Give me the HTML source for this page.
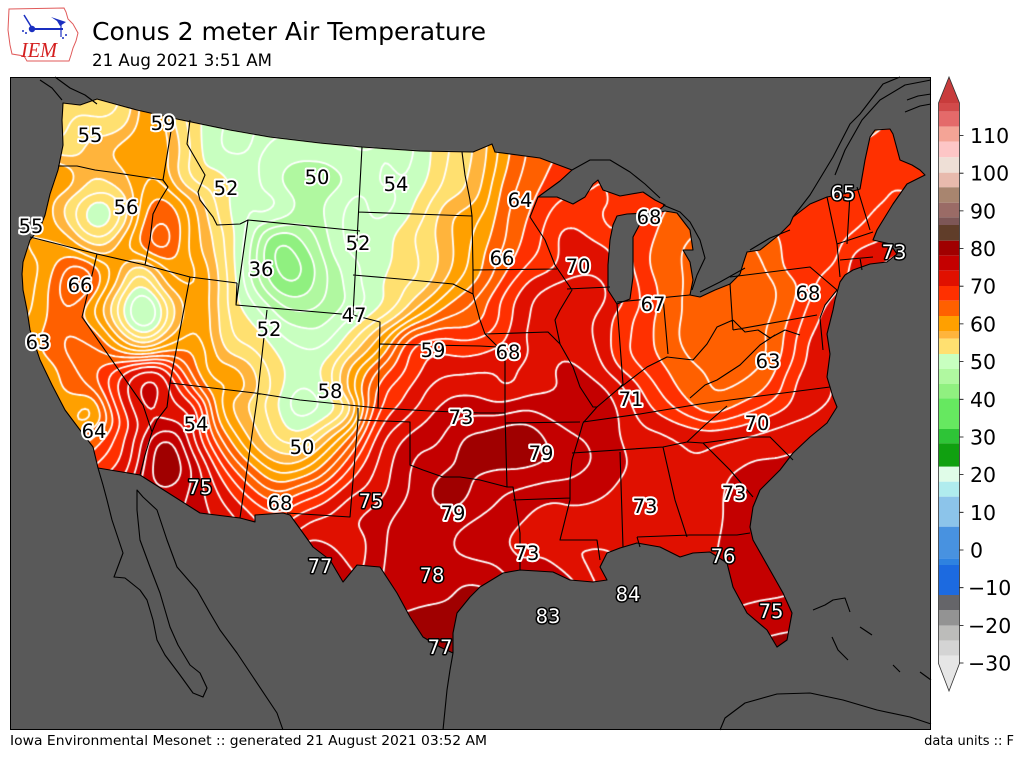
<!DOCTYPE html>
<html><head><meta charset="utf-8">
<style>
html,body{margin:0;padding:0;background:#fff;}
#wrap{position:relative;width:1024px;height:768px;overflow:hidden;background:#fff;font-family:"DejaVu Sans","Liberation Sans",sans-serif;}
svg,canvas{position:absolute;left:0;top:0;}
</style></head>
<body><div id="wrap">
<svg id="base" width="1024" height="768" xmlns="http://www.w3.org/2000/svg">
<rect x="10" y="77" width="921" height="653" fill="#595959"/>
<path id="usfb" fill="#d81400" d="M63,103 L80,105 L97,99 L137,110 L177,119 L230,130 L270,137 L320,143 L362,147 L420,151 L473,152 L492,144 L495,152 L540,158 L572,170 L560,181 L538,197 L557,197 L573,204 L585,197 L593,184 L598,180 L603,190 L620,196 L643,192 L655,200 L665,205 L657,212 L647,213 L627,214 L617,216 L613,225 L610,240 L608,265 L608,290 L617,304 L630,299 L633,277 L633,250 L633,237 L642,220 L653,214 L665,211 L677,213 L690,230 L693,250 L683,250 L690,262 L693,280 L690,295 L700,297 L715,290 L730,284 L740,274 L743,264 L747,252 L760,250 L780,234 L790,224 L793,217 L810,204 L827,197 L843,194 L860,189 L865,160 L870,137 L875,130 L890,129 L893,134 L900,160 L912,165 L920,170 L925,175 L907,184 L893,204 L877,230 L873,240 L890,244 L897,254 L887,262 L870,264 L853,270 L845,275 L840,282 L835,300 L833,310 L827,334 L830,354 L827,377 L833,397 L837,407 L827,423 L810,437 L793,453 L780,470 L760,490 L753,507 L750,527 L753,540 L770,570 L783,593 L792,613 L787,640 L777,647 L767,630 L747,613 L733,587 L727,563 L710,552 L693,553 L680,557 L660,547 L637,543 L620,548 L607,553 L600,567 L607,580 L593,582 L570,580 L553,572 L520,570 L503,573 L480,587 L470,597 L457,613 L453,633 L453,653 L440,647 L423,637 L410,617 L397,593 L380,567 L357,565 L343,582 L330,560 L313,547 L303,533 L290,515 L283,513 L255,515 L255,522 L240,518 L200,513 L140,475 L98,468 L93,447 L80,430 L65,410 L52,385 L40,360 L30,330 L27,310 L23,290 L22,274 L23,262 L30,240 L40,228 L45,215 L50,194 L58,170 L60,160 L63,145 L62,120 Z"/>
</svg>
<canvas id="cv" width="1024" height="768"></canvas>
<svg id="ov" width="1024" height="768" xmlns="http://www.w3.org/2000/svg">
<g fill="none" stroke="#000" stroke-width="1.1" stroke-linejoin="round">
<path d="M63,103 L80,105 L97,99 L137,110 L177,119 L230,130 L270,137 L320,143 L362,147 L420,151 L473,152 L492,144 L495,152 L540,158 L572,170 L560,181 L538,197 L557,197 L573,204 L585,197 L593,184 L598,180 L603,190 L620,196 L643,192 L655,200 L665,205 L657,212 L647,213 L627,214 L617,216 L613,225 L610,240 L608,265 L608,290 L617,304 L630,299 L633,277 L633,250 L633,237 L642,220 L653,214 L665,211 L677,213 L690,230 L693,250 L683,250 L690,262 L693,280 L690,295 L700,297 L715,290 L730,284 L740,274 L743,264 L747,252 L760,250 L780,234 L790,224 L793,217 L810,204 L827,197 L843,194 L860,189 L865,160 L870,137 L875,130 L890,129 L893,134 L900,160 L912,165 L920,170 L925,175 L907,184 L893,204 L877,230 L873,240 L890,244 L897,254 L887,262 L870,264 L853,270 L845,275 L840,282 L835,300 L833,310 L827,334 L830,354 L827,377 L833,397 L837,407 L827,423 L810,437 L793,453 L780,470 L760,490 L753,507 L750,527 L753,540 L770,570 L783,593 L792,613 L787,640 L777,647 L767,630 L747,613 L733,587 L727,563 L710,552 L693,553 L680,557 L660,547 L637,543 L620,548 L607,553 L600,567 L607,580 L593,582 L570,580 L553,572 L520,570 L503,573 L480,587 L470,597 L457,613 L453,633 L453,653 L440,647 L423,637 L410,617 L397,593 L380,567 L357,565 L343,582 L330,560 L313,547 L303,533 L290,515 L283,513 L255,515 L255,522 L240,518 L200,513 L140,475 L98,468 L93,447 L80,430 L65,410 L52,385 L40,360 L30,330 L27,310 L23,290 L22,274 L23,262 L30,240 L40,228 L45,215 L50,194 L58,170 L60,160 L63,145 L62,120 Z"/>
<path d="M58,166 L77,166 L95,170 L110,172 L130,175 L163,180 M173,119 L163,180 L168,187 L160,200 L153,214 L150,240 L145,265 M30,237 L97,254 L145,265 L190,277 L237,283 M97,254 L82,317 L143,405 L152,432 M170,383 L167,407 L157,420 L152,432 L145,455 L140,475 M190,277 L170,383 L255,393 L300,400 L378,408 L430,411 L480,413 L505,413 M267,310 L257,400 L240,518 M237,283 L236,305 L353,315 L380,322 L378,408 M190,120 L187,144 L205,175 L198,192 L200,200 L213,217 L217,225 L240,224 L248,220 L236,305 M248,220 L360,231 M362,147 L353,315 M358,212 L472,216 M353,275 L400,279 L453,284 L465,290 L473,294 M462,152 L465,175 L470,200 L472,216 L473,270 L473,294 L480,320 L485,334 L498,347 L505,360 L505,413 L507,487 M380,344 L480,346 L498,347 M358,408 L358,420 L350,517 L287,513 M358,420 L410,422 L410,465 L423,470 L443,477 L460,477 L480,480 L507,487 L513,487 L515,500 L520,533 L520,570 M505,423 L580,422 M513,500 L570,498 M597,407 L590,415 L583,423 L578,440 L572,460 L570,480 L570,500 L565,520 L560,540 L597,540 L600,560 M620,452 L623,547 M572,453 L663,447 L687,442 L703,443 L747,437 L770,437 L793,460 M583,422 L640,414 L700,404 L760,396 L830,387 M727,406 L705,425 L687,442 M663,447 L675,500 L687,537 M637,537 L640,547 M637,537 L690,535 L737,535 L750,533 M703,443 L730,470 L753,497 M473,270 L557,269 M538,197 L530,217 L545,240 L555,265 L572,290 L560,310 L555,320 L560,344 L573,367 L580,387 L593,407 L597,407 M485,334 L548,332 L560,344 M567,289 L610,287 M617,304 L623,384 L617,390 M597,407 L617,390 L647,367 L667,357 L693,360 L707,344 L717,327 L733,320 M663,297 L668,354 M617,302 L690,295 M730,284 L733,330 M730,277 L810,267 L837,290 M733,330 L817,315 M837,290 L825,305 L820,318 L823,350 M733,320 L745,332 L758,330 L770,338 L785,330 L800,335 M690,398 L705,385 L717,380 L740,365 L760,345 L775,335 M827,197 L837,244 L840,277 M850,194 L847,244 M857,187 L870,230 M837,244 L873,232 M840,260 L873,257 M860,258 L862,270"/>
<path d="M572,170 L590,160 L610,160 L630,172 L645,184 L660,198 M663,205 L680,212 L690,222 L700,240 L705,258 L697,275 L692,290 M700,292 L720,282 L745,268 M750,250 L770,238 L790,230 M793,217 L810,195 L833,157 L850,124 L860,114 L883,84 L900,77 M835,175 L845,150 L862,120 L880,100 L905,85 L931,80 M907,100 L918,96 L931,94 M905,112 L920,106 L931,104 M55,77 L70,88 L85,95 L97,104 M40,80 L52,88 L62,100 M98,468 L103,485 L107,500 L112,520 L123,553 L114,577 L125,578 L140,590 L147,600 L153,620 L157,640 L165,655 L180,675 L193,693 L203,697 L207,688 L200,673 L190,665 L178,645 L170,627 L160,593 L150,567 L140,540 L137,510 L137,490 L143,497 L157,510 L167,540 L177,567 L197,590 L210,613 L220,630 L237,653 L253,677 L277,713 L283,730 M453,653 L450,670 L447,690 L443,730 M720,730 L725,718 L745,703 L777,694 L810,693 L843,700 L877,710 L910,717 L931,724 M813,610 L825,605 L833,600 L845,598 L850,612 M832,637 L838,650 L848,660 M860,627 L872,635 M893,665 L900,672 M920,672 L931,680"/>
</g>
<g font-family="DejaVu Sans, Liberation Sans, sans-serif" font-size="19.5" text-anchor="middle" stroke-linejoin="round" paint-order="stroke">
<g fill="#000" stroke="#fff" stroke-width="4">
<text x="90" y="142">55</text><text x="163" y="130">59</text><text x="226" y="195">52</text><text x="317" y="184">50</text><text x="396" y="191">54</text><text x="126" y="214">56</text><text x="31" y="233">55</text><text x="358" y="250">52</text><text x="261" y="276">36</text><text x="80" y="292">66</text><text x="520" y="207">64</text><text x="649" y="224">68</text><text x="502" y="265">66</text><text x="578" y="273">70</text><text x="808" y="300">68</text><text x="38" y="349">63</text><text x="269" y="336">52</text><text x="354" y="322">47</text><text x="433" y="357">59</text><text x="508" y="359">68</text><text x="653" y="311">67</text><text x="768" y="368">63</text><text x="330" y="398">58</text><text x="631" y="406">71</text><text x="461" y="424">73</text><text x="196" y="431">54</text><text x="757" y="430">70</text><text x="94" y="438">64</text><text x="302" y="454">50</text><text x="541" y="460">79</text><text x="280" y="510">68</text><text x="453" y="520">79</text><text x="645" y="513">73</text><text x="734" y="500">73</text><text x="527" y="560">73</text>
</g>
<g fill="#fff" stroke="#000" stroke-width="3">
<text x="843" y="200">65</text><text x="894" y="259">73</text><text x="200" y="494">75</text><text x="371" y="508">75</text><text x="723" y="563">76</text><text x="320" y="573">77</text><text x="432" y="582">78</text><text x="628" y="601">84</text><text x="548" y="623">83</text><text x="771" y="618">75</text><text x="440" y="654">77</text>
</g>
</g>
<rect x="10.5" y="77.5" width="920" height="652" fill="none" stroke="#000" stroke-width="1"/>
<g>
<polygon points="938.5,103 959.5,103 949,77" fill="#c83c3c"/>
<rect x="938.5" y="103" width="21" height="8.7" fill="#d24a4a"/>
<rect x="938.5" y="111.7" width="21" height="15" fill="#e46a6a"/>
<rect x="938.5" y="126.7" width="21" height="15" fill="#f4a496"/>
<rect x="938.5" y="141.7" width="21" height="15.6" fill="#fdc6c6"/>
<rect x="938.5" y="157.3" width="21" height="15.4" fill="#eedfd6"/>
<rect x="938.5" y="172.7" width="21" height="14.6" fill="#e8baad"/>
<rect x="938.5" y="187.3" width="21" height="15.4" fill="#a8856f"/>
<rect x="938.5" y="202.7" width="21" height="14.6" fill="#9a6b66"/>
<rect x="938.5" y="217.3" width="21" height="7.7" fill="#7d5656"/>
<rect x="938.5" y="225" width="21" height="15.7" fill="#603d29"/>
<rect x="938.5" y="240.7" width="21" height="15" fill="#a00000"/>
<rect x="938.5" y="255.7" width="21" height="15" fill="#c40000"/>
<rect x="938.5" y="270.7" width="21" height="15.3" fill="#e01000"/>
<rect x="938.5" y="286" width="21" height="14.7" fill="#ff3000"/>
<rect x="938.5" y="300.7" width="21" height="15.3" fill="#ff6000"/>
<rect x="938.5" y="316" width="21" height="15" fill="#ffa000"/>
<rect x="938.5" y="331" width="21" height="7.7" fill="#ffb43c"/>
<rect x="938.5" y="338.7" width="21" height="15.3" fill="#ffe070"/>
<rect x="938.5" y="354" width="21" height="15" fill="#c8ffc0"/>
<rect x="938.5" y="369" width="21" height="15" fill="#b0f8a0"/>
<rect x="938.5" y="384" width="21" height="14.3" fill="#90f080"/>
<rect x="938.5" y="398.3" width="21" height="30.7" fill="#66e860"/>
<rect x="938.5" y="429" width="21" height="14.3" fill="#2ec437"/>
<rect x="938.5" y="443.3" width="21" height="23.4" fill="#10a010"/>
<rect x="938.5" y="466.7" width="21" height="15" fill="#e0fce8"/>
<rect x="938.5" y="481.7" width="21" height="15" fill="#b0ecee"/>
<rect x="938.5" y="496.7" width="21" height="30" fill="#8cc4ea"/>
<rect x="938.5" y="526.7" width="21" height="31.6" fill="#4892e0"/>
<rect x="938.5" y="558.3" width="21" height="6.7" fill="#2e82e0"/>
<rect x="938.5" y="565" width="21" height="30" fill="#1c6ae0"/>
<rect x="938.5" y="595" width="21" height="15" fill="#656569"/>
<rect x="938.5" y="610" width="21" height="15.7" fill="#939393"/>
<rect x="938.5" y="625.7" width="21" height="15" fill="#bcbcba"/>
<rect x="938.5" y="640.7" width="21" height="15" fill="#d4d4d4"/>
<rect x="938.5" y="655.7" width="21" height="7.8" fill="#e6e6e6"/>
<polygon points="938.5,663.5 959.5,663.5 949,691" fill="#e6e6e6"/>
<path d="M938.5,103 L949,77 L959.5,103 L959.5,663.5 L949,691 L938.5,663.5 Z" fill="none" stroke="#333" stroke-width="0.8"/>
<path d="M959.5,135.5h4M959.5,173.2h4M959.5,210.9h4M959.5,248.6h4M959.5,286.2h4M959.5,323.9h4M959.5,361.6h4M959.5,399.3h4M959.5,437h4M959.5,474.6h4M959.5,512.3h4M959.5,550h4M959.5,587.7h4M959.5,625.4h4M959.5,663h4" stroke="#000" stroke-width="0.8"/>
<g font-family="DejaVu Sans, Liberation Sans, sans-serif" font-size="20.5" fill="#000">
<text x="970" y="143">110</text><text x="970" y="180.7">100</text><text x="970" y="218.4">90</text><text x="970" y="256.1">80</text><text x="970" y="293.7">70</text><text x="970" y="331.4">60</text><text x="970" y="369.1">50</text><text x="970" y="406.8">40</text><text x="970" y="444.5">30</text><text x="970" y="482.1">20</text><text x="970" y="519.8">10</text><text x="970" y="557.5">0</text><text x="968" y="595.2">−10</text><text x="968" y="632.9">−20</text><text x="968" y="670.5">−30</text>
</g>
</g>
<g>
<path d="M9,9 L64,8 L66,12 L68,19 L73,24 L78,33 L76,41 L73,48 L71,55 L69,61 L27,61 L24,56 L12,54 L10,45 L8,30 Z" fill="none" stroke="#e05a5a" stroke-width="1"/>
<line x1="32" y1="29" x2="63" y2="29" stroke="#1a2fc0" stroke-width="2"/>
<line x1="24" y1="15" x2="32" y2="28" stroke="#1a2fc0" stroke-width="1.5"/>
<circle cx="32" cy="29" r="3.2" fill="#1a2fc0"/>
<polygon points="51,17 66,22 60,26 57,21" fill="#1a2fc0"/>
<line x1="61" y1="22" x2="61" y2="37" stroke="#1a2fc0" stroke-width="1.2"/>
<circle cx="23" cy="31" r="1" fill="#1a2fc0"/><circle cx="26" cy="33" r="1" fill="#1a2fc0"/><circle cx="63" cy="38" r="1" fill="#1a2fc0"/><circle cx="66" cy="35" r="1" fill="#1a2fc0"/>
<text x="21" y="57" font-family="Liberation Serif, serif" font-style="italic" font-size="21" fill="#d42020" textLength="36" lengthAdjust="spacingAndGlyphs">IEM</text>
</g>
<text x="92" y="40" font-family="DejaVu Sans, Liberation Sans, sans-serif" font-size="24.5" fill="#000" textLength="394" lengthAdjust="spacingAndGlyphs">Conus 2 meter Air Temperature</text>
<text x="92" y="66" font-family="DejaVu Sans, Liberation Sans, sans-serif" font-size="16.5" fill="#000" textLength="180" lengthAdjust="spacingAndGlyphs">21 Aug 2021 3:51 AM</text>
<text x="10" y="745" font-family="DejaVu Sans, Liberation Sans, sans-serif" font-size="13" fill="#000" textLength="477" lengthAdjust="spacingAndGlyphs">Iowa Environmental Mesonet :: generated 21 August 2021 03:52 AM</text>
<text x="1014" y="745" text-anchor="end" font-family="DejaVu Sans, Liberation Sans, sans-serif" font-size="13" fill="#000">data units :: F</text>
</svg>
</div>
<script>
(function(){
var cv=document.getElementById('cv');if(!cv||!cv.getContext)return;
var ctx=cv.getContext('2d');
var d=document.getElementById('usfb').getAttribute('d');
var US=new Path2D(d);
var P=[
70,117,54,103,117,54,120,117,54,150,117,60,183,117,54,
230,128,50,270,133,50,310,138,50,350,143,50,
67,144,54,93,144,57,127,144,59,167,144,59,187,144,54,217,144,50,277,144,50,343,144,50,
380,160,50,415,162,50,445,160,54,465,160,55,480,160,57,497,160,60,515,160,63,535,160,65,
60,177,60,93,177,56,127,177,58,160,177,60,187,177,54,227,177,52,260,177,50,293,177,47,327,177,47,377,177,50,427,177,52,460,177,56,
467,194,55,483,194,59,503,194,63,527,194,65,547,194,67,577,200,68,610,194,68,647,200,67,
37,210,60,70,210,55,100,220,50,120,210,54,150,210,62,163,215,64,187,210,60,210,210,55,237,210,51,277,210,50,310,210,47,343,210,50,393,210,50,427,210,54,460,210,59,
467,227,59,487,227,61,510,227,65,537,227,67,570,230,71,593,227,68,647,227,67,670,227,65,
27,243,60,60,243,60,93,243,56,127,243,60,160,243,65,193,243,59,220,243,55,243,243,50,277,243,42,310,243,45,343,243,50,377,243,51,410,243,54,443,243,57,470,243,60,
380,260,51,410,260,53,443,260,56,
467,260,60,493,260,64,520,260,67,550,260,69,577,260,71,600,260,71,633,260,68,660,260,65,687,260,64,760,255,64,793,260,67,827,260,67,860,260,71,893,255,72,
793,227,67,827,227,67,860,227,68,887,227,69,867,177,67,893,177,68,883,144,66,910,170,67,850,200,67,800,215,66,893,150,67,875,205,68,
23,277,59,53,277,61,77,277,65,75,282,67,110,277,60,143,277,53,170,277,60,197,277,60,227,277,54,260,277,46,285,270,41,293,277,42,327,277,46,360,277,50,393,277,53,427,277,55,453,277,59,477,277,61,
470,294,63,493,294,67,527,294,71,560,294,73,593,294,73,627,294,70,647,294,67,677,294,64,710,294,63,743,294,63,777,294,64,810,294,67,833,294,70,
37,310,60,60,310,64,93,310,60,120,310,54,143,315,46,170,310,55,197,310,60,227,310,54,260,310,50,293,310,46,327,310,47,360,310,50,393,310,54,427,310,60,460,310,64,
470,327,65,493,327,68,527,327,72,560,327,73,593,327,72,620,327,69,643,327,67,677,327,64,710,327,62,743,327,63,777,327,65,810,327,68,827,327,71,
30,343,61,60,343,64,77,343,64,93,343,64,120,343,60,143,343,55,170,343,60,197,343,61,227,343,55,260,343,53,293,343,50,327,343,50,360,343,55,377,343,59,410,343,67,443,343,69,470,343,69,
470,360,70,493,360,71,527,360,72,560,360,74,593,360,73,620,360,69,647,360,67,677,360,65,710,360,64,743,360,63,777,360,65,793,360,68,820,360,71,
43,377,60,77,377,64,110,377,68,137,377,72,153,377,75,177,377,68,203,377,61,237,377,59,270,377,54,303,377,51,327,377,53,350,377,59,377,377,65,410,377,69,443,377,72,477,377,73,
503,394,72,543,394,74,587,394,75,610,394,74,633,394,71,660,394,68,693,394,65,727,394,64,750,394,65,777,394,67,810,394,71,
60,404,62,110,404,68,143,404,76,170,404,72,310,400,49,70,395,62,130,400,72,
60,417,60,93,415,56,127,417,68,160,417,73,193,417,72,223,417,60,243,417,57,270,417,54,303,417,50,343,417,54,377,417,68,410,417,72,443,417,75,477,417,76,
103,443,67,127,443,72,167,443,79,197,443,71,227,443,64,243,443,59,270,443,55,300,443,54,330,443,58,343,443,63,377,443,71,410,443,75,443,443,76,
470,450,79,505,450,80,540,450,79,520,440,80,455,492,79.5,450,485,79,
440,468,77,470,473,77.5,500,478,77,530,476,76.5,555,468,77,565,445,77,
110,467,72,143,467,76,167,467,80,197,467,75,223,467,68,250,467,63,277,467,59,310,467,60,330,467,64,353,467,69,377,467,72,410,467,76,
85,428,63,100,455,66,120,460,68,
160,493,77,197,493,75,217,493,72,243,493,68,277,493,64,310,493,67,343,493,71,377,493,73,410,493,76,477,495,77,510,490,76,543,490,75,583,490,75,610,490,74,643,490,73,677,490,73,710,490,73,740,490,75,
197,517,75,237,517,72,270,517,69,303,517,71,343,517,73,377,517,75,410,517,77,443,517,77,477,517,76,510,523,75,543,523,73,577,523,73,610,523,73,643,523,73,677,523,73,710,523,73,737,523,75,
343,550,73,370,550,74,393,550,77,427,550,77,460,550,76,477,543,75,520,543,73,560,543,72,600,543,72,693,550,73,740,543,75,
470,567,76,500,567,76,543,567,75,743,567,74.5,760,570,75,325,560,76,
410,583,77,443,583,77,470,583,79,
467,600,78,753,600,76,777,600,76,
420,627,78.5,443,627,79,777,633,78,440,645,78.5,
477,410,75,510,410,76,560,410,75,610,410,75,643,410,71,677,410,68,710,402,64,743,410,68,777,410,70,810,410,72,
477,433,78.5,527,433,78,560,433,76,600,433,75,633,433,73,667,433,72,693,433,71,727,433,71,760,433,72,787,433,73,
477,460,79,527,460,79,593,460,76,627,460,74,660,460,73,693,460,72,727,460,73,760,460,74,
840,290,70,830,310,71,820,340,72,827,370,72,833,395,72,800,380,71,905,175,68,840,215,67,790,235,66,740,300,63,690,320,64,700,350,63,720,360,63,730,385,64,700,385,65,
645,240,67,670,250,64,680,270,64,660,285,66,
570,215,69,580,245,71,520,180,64,500,240,63
];
var N=P.length/3,PX=new Float64Array(N),PY=new Float64Array(N),PT=new Float64Array(N);
for(var k=0;k<N;k++){PX[k]=P[3*k];PY[k]=P[3*k+1];PT[k]=P[3*k+2];}
var s1=22,s2=14,i1=1/(2*s1*s1),i2=1/(2*s2*s2);
function ev(x,y,V,inv){var sw=0,st=0;for(var k=0;k<N;k++){var dx=x-PX[k],dy=y-PY[k],d2=dx*dx+dy*dy;var w=Math.exp(-d2*inv)+1e-9/(1+d2);sw+=w;st+=w*V[k];}return st/sw;}
var F=new Float64Array(N),R1=new Float64Array(N);
for(k=0;k<N;k++){F[k]=ev(PX[k],PY[k],PT,i1);R1[k]=PT[k]-F[k];}
var S=3,X0=10,Y0=77,W=921,H=653,nx=Math.ceil(W/S)+2,ny=Math.ceil(H/S)+2;
var G=new Float32Array(nx*ny);
for(var j=0;j<ny;j++){var y=Y0+j*S;for(var i=0;i<nx;i++){var x=X0+i*S;var a1=0,b1=0,a2=0,b2=0;
for(k=0;k<N;k++){var dx=x-PX[k],dy=y-PY[k],d2=dx*dx+dy*dy;var t=1e-9/(1+d2);var w1=Math.exp(-d2*i1)+t,w2=Math.exp(-d2*i2)+t;a1+=w1;b1+=w1*PT[k];a2+=w2;b2+=w2*R1[k];}
G[j*nx+i]=b1/a1+b2/a2;}}
var TH=[44,48,52,56,58,62,66,70,74,78];
var CL=[[144,240,128],[176,248,160],[200,255,192],[255,224,112],[255,180,60],[255,160,0],[255,96,0],[255,48,0],[224,16,0],[196,0,0],[160,0,0]];
function col(t){for(var q=0;q<TH.length;q++){if(t<TH[q])return CL[q];}return CL[CL.length-1];}
var off=document.createElement('canvas');off.width=W;off.height=H;
var oc=off.getContext('2d');var img=oc.createImageData(W,H);var D=img.data;
for(var py=0;py<H;py++){var gy=(py+0.5)/S,jj=Math.floor(gy),fy=gy-jj;for(var px=0;px<W;px++){var gx=(px+0.5)/S,ii=Math.floor(gx),fx=gx-ii;
var g00=G[jj*nx+ii],g10=G[jj*nx+ii+1],g01=G[(jj+1)*nx+ii],g11=G[(jj+1)*nx+ii+1];
var tv=(g00*(1-fx)+g10*fx)*(1-fy)+(g01*(1-fx)+g11*fx)*fy;var c=col(tv);var o=(py*W+px)*4;D[o]=c[0];D[o+1]=c[1];D[o+2]=c[2];D[o+3]=255;}}
oc.putImageData(img,0,0);
ctx.save();ctx.clip(US);ctx.drawImage(off,X0,Y0);
ctx.beginPath();
for(var L=40;L<=82;L+=2){
for(j=0;j<ny-1;j++){for(i=0;i<nx-1;i++){
var a=G[j*nx+i],b=G[j*nx+i+1],cc=G[(j+1)*nx+i+1],e=G[(j+1)*nx+i];
var pa=a>=L,pb=b>=L,pc=cc>=L,pe=e>=L;
if(pa===pb&&pb===pc&&pc===pe)continue;
var pts=[];var x0=X0+i*S,y0=Y0+j*S;
if(pa!==pb)pts.push(x0+S*(L-a)/(b-a),y0);
if(pb!==pc)pts.push(x0+S,y0+S*(L-b)/(cc-b));
if(pc!==pe)pts.push(x0+S*(L-e)/(cc-e),y0+S);
if(pe!==pa)pts.push(x0,y0+S*(L-a)/(e-a));
if(pts.length>=4){ctx.moveTo(pts[0],pts[1]);ctx.lineTo(pts[2],pts[3]);}
if(pts.length===8){ctx.moveTo(pts[4],pts[5]);ctx.lineTo(pts[6],pts[7]);}
}}}
ctx.strokeStyle='#fff';ctx.lineWidth=1.8;ctx.lineCap='round';ctx.stroke();
ctx.restore();
})();
</script>
</body></html>
